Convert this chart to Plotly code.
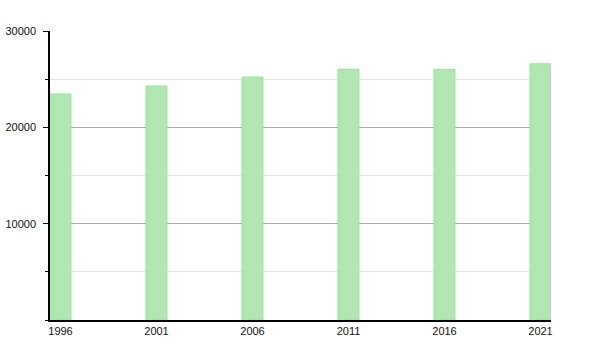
import plotly.graph_objects as go

years = [1996, 2001, 2006, 2011, 2016, 2021]
population = [23460, 24290, 25225, 26030, 26020, 26600]
year_labels = ["1996", "2001", "2006", "2011", "2016", "2021"]
y_ticks = [10000, 20000, 30000]
y_labels = ["10000", "20000", "30000"]

fig = go.Figure()
fig.add_trace(go.Bar(
    x=years, y=population, width=1.09,
    marker=dict(color="#b0e6b0", line=dict(color="#a6dba6", width=1)),
))

fig.update_layout(
    width=600, height=350,
    margin=dict(l=50, r=49, t=31, b=30),
    paper_bgcolor="white", plot_bgcolor="white",
    showlegend=False,
    font=dict(family="Liberation Sans, Arial, sans-serif", size=11, color="#111111"),
    xaxis=dict(
        range=[1995.453, 2021.547],
        tickmode="array", tickvals=years, ticktext=year_labels,
        showgrid=False, showline=True, linecolor="black", linewidth=1.5,
        ticks="", zeroline=False, fixedrange=True, automargin=False,
    ),
    yaxis=dict(
        range=[0, 30000],
        tickmode="array", tickvals=y_ticks, ticktext=y_labels,
        showgrid=True, gridcolor="#aaaaaa", gridwidth=1,
        showline=True, linecolor="black", linewidth=1.5,
        ticks="outside", ticklen=5, tickcolor="black",
        ticklabelstandoff=5, automargin=False,
        zeroline=False,
        minor=dict(dtick=5000, tick0=0, showgrid=True, gridcolor="#e6e6e6",
                   ticks="outside", ticklen=3, tickcolor="black"),
    ),
)

fig.write_html("out.html")
